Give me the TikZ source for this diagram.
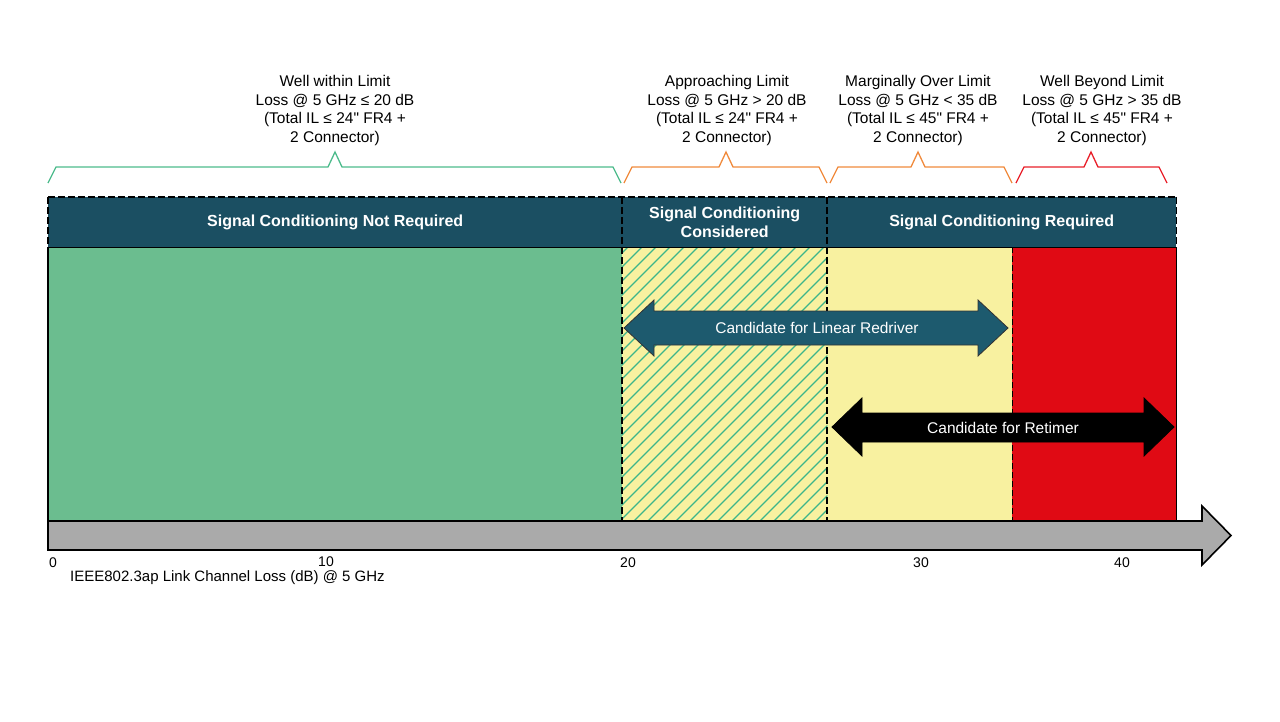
\documentclass[tikz,border=0pt]{standalone}
\usepackage{fontspec}
\setmainfont{Liberation Sans}[Ligatures=TeXOff]
\definecolor{zgreen}{HTML}{6BBD8F}
\definecolor{zteal}{HTML}{1B4F62}
\definecolor{zarrow}{HTML}{1D5A6E}
\definecolor{zyellow}{HTML}{F8F1A0}
\definecolor{zred}{HTML}{E00A14}
\definecolor{zgray}{HTML}{AAAAAA}
\definecolor{zhatch}{HTML}{3DB58A}
\definecolor{zorange}{HTML}{F08A3C}
\definecolor{zbrred}{HTML}{E8202A}
\definecolor{zbrgreen}{HTML}{4DBB8C}
\begin{document}
\begin{tikzpicture}[x=1pt,y=-1pt,
  lbl/.style={font=\fontsize{15.5}{18.5}\selectfont, align=center, inner sep=0pt},
  hdr/.style={font=\bfseries\fontsize{16}{19.5}\selectfont, text=white, align=center, inner sep=0pt, fill=zteal, anchor=north west, minimum height=50pt},
  region/.style={inner sep=0pt, anchor=north west, minimum height=274pt},
  tick/.style={font=\fontsize{14}{16}\selectfont, inner sep=0pt},
  arrlbl/.style={font=\fontsize{15.5}{18}\selectfont, text=white, inner sep=0pt},
  brace/.style={line width=1.3pt, line join=miter},
  sep/.style={black, line width=1.6pt, dash pattern=on 7pt off 3pt},
  edge/.style={black, line width=1.5pt}
]
\useasboundingbox (0,0) rectangle (1280,721);

% body regions
\node[region, fill=zgreen, minimum width=574pt] (green) at (48,247) {};
\node[region, fill=zyellow, minimum width=205pt] (hatch) at (622,247) {};
\node[region, fill=zyellow, minimum width=185pt] (yellow) at (827,247) {};
\node[region, fill=zred, minimum width=164pt] (red) at (1012,247) {};

% hatching
\begin{scope}
  \clip (hatch.north west) rectangle (hatch.south east);
  \foreach \x in {340,354,...,840}
    \draw[zhatch, line width=1.3pt] (\x,521) -- ++(290,-290);
\end{scope}

% header cells
\node[hdr, minimum width=574pt] (c1) at (48,197) {Signal Conditioning Not Required};
\node[hdr, minimum width=205pt] (c2) at (622,197) {Signal Conditioning\\Considered};
\node[hdr, minimum width=349pt] (c3) at (827,197) {Signal Conditioning Required};

% borders
\draw[black, line width=1pt] (c1.south west) -- (c3.south east);
\draw[sep] (c1.north west) -- (c3.north east);
\draw[sep] (c1.north west) -- (c1.south west);
\draw[sep] (c3.north east) -- (c3.south east);
\draw[sep] (c2.north west) -- (hatch.south west);
\draw[sep] (c3.north west) -- (yellow.south west);
\draw[black, line width=1pt, dash pattern=on 6pt off 3pt] (red.north west) -- (red.south west);
\draw[edge] (green.north west) -- (green.south west);
\draw[edge] (red.north east) -- (red.south east);

% axis arrow
\coordinate (axstart) at (48,521);
\filldraw[fill=zgray, draw=black, line width=1.6pt, line join=miter]
  (axstart) -- (1202,521) -- (1202,506) -- (1231,535.5) -- (1202,565) -- (1202,550) -- (48,550) -- cycle;

% tick labels
\node[tick] (t0) at (53,563) {0};
\node[tick] (t10) at (326,562) {10};
\node[tick] (t20) at (628,563) {20};
\node[tick] (t30) at (921,563) {30};
\node[tick] (t40) at (1122,563) {40};
\node[tick, anchor=west, font=\fontsize{15}{17}\selectfont] (axtitle) at (70,578) {IEEE802.3ap Link Channel Loss (dB) @ 5 GHz};

% double arrows
\filldraw[fill=zarrow, draw=black!80, line width=0.8pt, line join=miter]
  (624,328) -- (654,300) -- (654,311) -- (978,311) -- (978,300) -- (1008,328) -- (978,356) -- (978,345) -- (654,345) -- (654,356) -- cycle;
\node[arrlbl] (redriver) at (817,328) {Candidate for Linear Redriver};
\filldraw[fill=black, draw=black, line width=0.8pt, line join=miter]
  (832,427) -- (862,398) -- (862,413) -- (1144,413) -- (1144,398) -- (1174,427) -- (1144,456) -- (1144,442) -- (862,442) -- (862,456) -- cycle;
\node[arrlbl] (retimer) at (1003,428) {Candidate for Retimer};

% braces
\draw[brace, zbrgreen] (48,183) -- (56,167) -- (328,167) -- (335,152) -- (342,167) -- (613,167) -- (621,183);
\draw[brace, zorange] (624,183) -- (632,167) -- (719,167) -- (726,152) -- (733,167) -- (819,167) -- (827,183);
\draw[brace, zorange] (830,183) -- (838,167) -- (911,167) -- (918,152) -- (925,167) -- (1004,167) -- (1012,183);
\draw[brace, zbrred] (1016,183) -- (1024,167) -- (1084,167) -- (1091,152) -- (1098,167) -- (1159,167) -- (1167,183);

% top labels
\node[lbl] (l1) at (335,110.5) {Well within Limit\\Loss @ 5 GHz ≤ 20 dB\\(Total IL ≤ 24" FR4 +\\2 Connector)};
\node[lbl] (l2) at (727,110.5) {Approaching Limit\\Loss @ 5 GHz > 20 dB\\(Total IL ≤ 24" FR4 +\\2 Connector)};
\node[lbl] (l3) at (918,110.5) {Marginally Over Limit\\Loss @ 5 GHz < 35 dB\\(Total IL ≤ 45" FR4 +\\2 Connector)};
\node[lbl] (l4) at (1102,110.5) {Well Beyond Limit\\Loss @ 5 GHz > 35 dB\\(Total IL ≤ 45" FR4 +\\2 Connector)};
\end{tikzpicture}
\end{document}
